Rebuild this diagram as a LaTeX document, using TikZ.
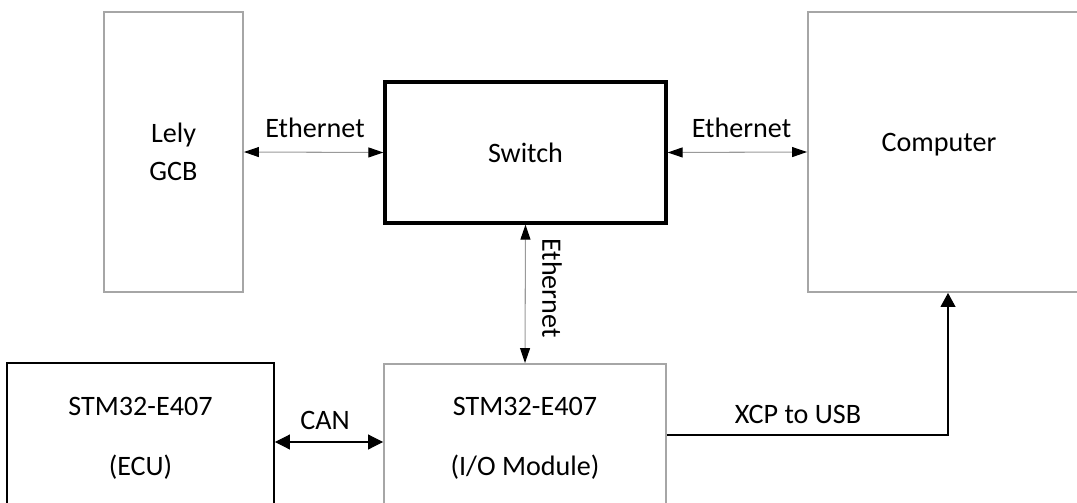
\documentclass[tikz,border=0pt]{standalone}
\usepackage{fontspec}
\setmainfont{Carlito}
\usepackage{tikz}
\usepackage{xcolor}
\usetikzlibrary{arrows.meta,positioning,calc}
\definecolor{ink}{HTML}{000000}
\definecolor{boxgray}{HTML}{A6A6A6}
\definecolor{linegray}{HTML}{9A9A9A}
\tikzset{
  txt/.style={font=\fontsize{16}{21.6}\selectfont,align=center,inner sep=0pt},
  graybox/.style={draw=boxgray,line width=1.1pt,fill=white,inner sep=0pt,
                  txt},
  thickbox/.style={draw=ink,line width=1.9pt,fill=white,inner sep=0pt,txt},
  blackbox/.style={draw=ink,line width=1.1pt,fill=white,inner sep=0pt,txt},
  etharr/.style={{Triangle[length=3mm,width=2mm,color=ink]}-{Triangle[length=3mm,width=2mm,color=ink]},
                 line width=0.6pt,draw=linegray},
  canarr/.style={{Triangle[length=3mm,width=3mm]}-{Triangle[length=3mm,width=3mm]},
                 line width=0.6pt,draw=ink},
  usbarr/.style={-{Triangle[length=2.8mm,width=3mm]},line width=0.6pt,draw=ink}
}
\begin{document}
\begin{tikzpicture}[x=1cm,y=1cm]
    \path[use as bounding box] (0,0) rectangle (21.54,10.04);

    \node[graybox,minimum width=2.78cm,minimum height=5.6cm] (lely) at (3.47,7.0)
      {Lely\\GCB};
    \node[thickbox,minimum width=5.62cm,minimum height=2.82cm] (switch) at (10.51,6.99)
      {Switch};
    \node[graybox,minimum width=5.6cm,minimum height=5.6cm] (comp) at (18.96,7.0) {};
    \node[txt] (comptxt) at (18.78,7.14) {Computer};

    \node[blackbox,minimum width=5.34cm,minimum height=3.0cm] (ecu) at (2.81,1.28)
      {STM32-E407\\[12.4pt](ECU)};
    \node[graybox,minimum width=5.64cm,minimum height=2.96cm] (io) at (10.5,1.28)
      {STM32-E407\\[12.4pt](I/O Module)};

    \draw[etharr] (lely.east) -- (switch.west);
    \draw[etharr] (switch.east) -- (comp.west);
    \draw[etharr] (switch.south) -- (io.north);
    \draw[canarr] ([yshift=-0.8mm]ecu.east) -- ([yshift=-0.8mm]io.west);
    \draw[usbarr] ([yshift=0.6mm]io.east) -| (comp.south);

    \node[txt] (ethl) at (6.30,7.48) {Ethernet};
    \node[txt] (ethr) at (14.83,7.48) {Ethernet};
    \node[txt,rotate=-90] (ethv) at (11.04,4.28) {Ethernet};
    \node[txt] (can) at (6.50,1.64) {CAN};
    \node[txt] (usb) at (15.96,1.76) {XCP to USB};
\end{tikzpicture}
\end{document}
